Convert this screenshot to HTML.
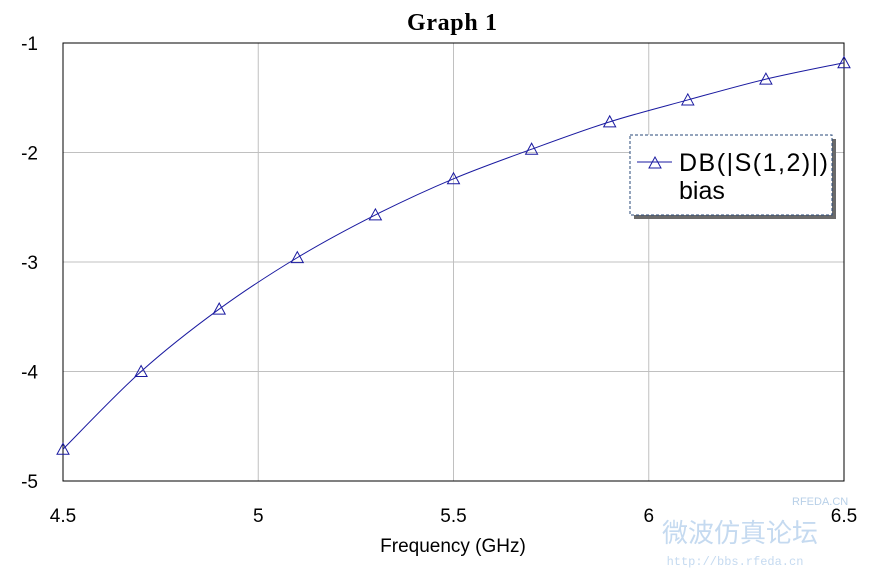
<!DOCTYPE html>
<html><head><meta charset="utf-8"><style>
html,body{margin:0;padding:0;background:#fff;width:874px;height:570px;overflow:hidden}
svg{display:block;font-family:"Liberation Sans",sans-serif}
</style></head><body>
<svg id="chart" width="874" height="570">
<text x="452" y="30" text-anchor="middle" font-family="Liberation Serif" font-weight="bold" font-size="24" textLength="90">Graph 1</text>
<g id="grid"></g>
<rect x="63" y="43" width="781" height="438" fill="none" stroke="#000" stroke-width="1"/>
<g id="ticks"></g>
<text x="453" y="552" text-anchor="middle" font-size="19">Frequency (GHz)</text>
<g id="series"></g>
<g>
<rect x="634" y="139" width="202" height="80" fill="#6a6a6a"/>
<rect x="630" y="135" width="202" height="80" fill="#fff" stroke="#2a4a7a" stroke-dasharray="3,2"/>
<line x1="637" y1="162" x2="672" y2="162" stroke="#1a1aa0"/>
<path d="M649,168 L655,157 L661,168 Z" fill="none" stroke="#1a1aa0"/>
<text x="679" y="171" font-size="25" textLength="149">DB(|S(1,2)|)</text>
<text x="679" y="199" font-size="25">bias</text>
</g>
<text x="792" y="505" font-size="11" fill="#b8d0e8">RFEDA.CN</text>
<text x="740" y="542" text-anchor="middle" font-family="Liberation Sans, Noto Sans CJK SC, sans-serif" font-size="26" fill="#c5daf0">微波仿真论坛</text>
<text x="735" y="565" text-anchor="middle" font-family="Liberation Mono" font-size="12" fill="#c5daf0">http://bbs.rfeda.cn</text>
</svg>
<script>
const freqs=[4.5,4.7,4.9,5.1,5.3,5.5,5.7,5.9,6.1,6.3,6.5];
const values=[-4.71,-4.0,-3.43,-2.96,-2.57,-2.24,-1.97,-1.72,-1.52,-1.33,-1.18];
const xTicks=[4.5,5,5.5,6,6.5];
const xTickLabels=["4.5","5","5.5","6","6.5"];
const yTicks=[-1,-2,-3,-4,-5];
const yTickLabels=["-1","-2","-3","-4","-5"];
const NS="http://www.w3.org/2000/svg";
const X=v=>63+(v-4.5)/2*781;
const Y=v=>43+(-1-v)/4*438;
function mk(t,a,p){const e=document.createElementNS(NS,t);for(const k in a)e.setAttribute(k,a[k]);p.appendChild(e);return e;}
const grid=document.getElementById('grid'),ticks=document.getElementById('ticks'),ser=document.getElementById('series');
xTicks.forEach((v,i)=>{
 const l=mk('line',{x1:X(v),x2:X(v),y1:43,y2:481,stroke:'#c0c0c0'},grid);
 
 
 const t=mk('text',{x:X(v),y:522,'text-anchor':'middle','font-size':19},ticks);
 t.textContent=xTickLabels[i];
 
 
});
yTicks.forEach((v,i)=>{
 const l=mk('line',{x1:63,x2:844,y1:Y(v),y2:Y(v),stroke:'#c0c0c0'},grid);
 
 
 const t=mk('text',{x:38,y:Y(v)+7,'text-anchor':'end','font-size':19},ticks);
 t.textContent=yTickLabels[i];
 
 
});
const pts=freqs.map((f,i)=>[X(f),Y(values[i])]);
let d=`M${pts[0][0]},${pts[0][1]}`;
for(let i=0;i<pts.length-1;i++){
 const p0=pts[i-1]||pts[i],p1=pts[i],p2=pts[i+1],p3=pts[i+2]||p2;
 d+=` C${p1[0]+(p2[0]-p0[0])/6},${p1[1]+(p2[1]-p0[1])/6} ${p2[0]-(p3[0]-p1[0])/6},${p2[1]-(p3[1]-p1[1])/6} ${p2[0]},${p2[1]}`;
}
const path=mk('path',{d:d,fill:'none',stroke:'#1a1aa0','stroke-width':1},ser);


pts.forEach(p=>{
 const m=mk('path',{d:`M${p[0]-6},${p[1]+5} L${p[0]},${p[1]-6} L${p[0]+6},${p[1]+5} Z`,fill:'none',stroke:'#1a1aa0'},ser);
 
 
});
</script>
</body></html>
